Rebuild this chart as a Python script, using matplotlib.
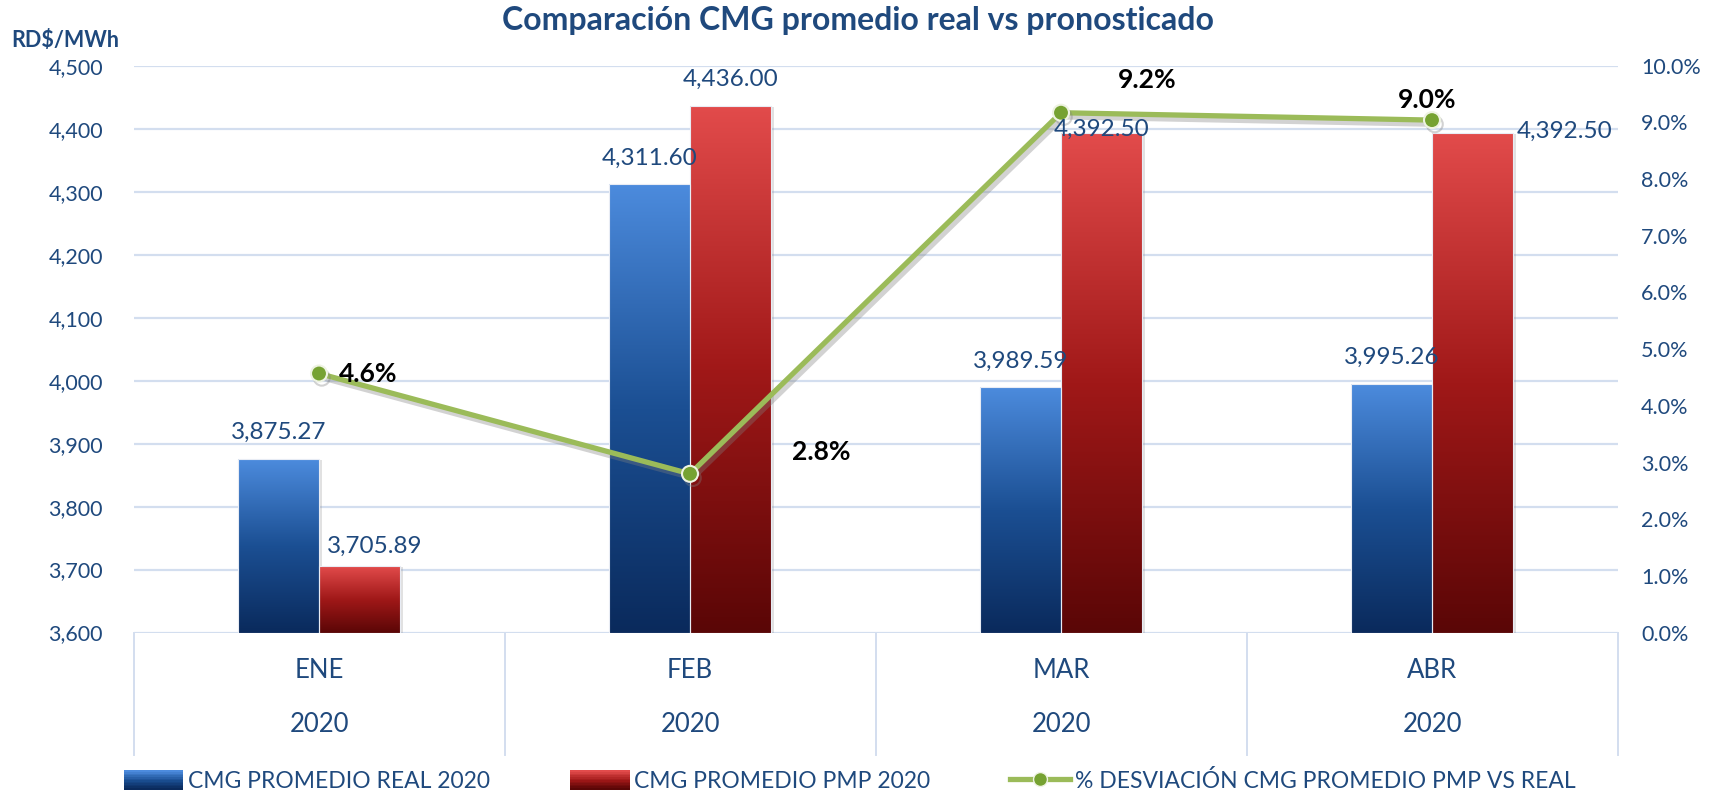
import matplotlib
matplotlib.use("Agg")
import matplotlib.pyplot as plt
import numpy as np
from matplotlib.colors import LinearSegmentedColormap
from matplotlib.patches import Rectangle
from matplotlib.lines import Line2D
from matplotlib.legend_handler import HandlerBase
from matplotlib.ticker import FuncFormatter, PercentFormatter
from matplotlib.transforms import offset_copy
import matplotlib.patheffects as pe

plt.rcParams["font.family"] = ["Lato", "DejaVu Sans"]

# data
months = ["ENE", "FEB", "MAR", "ABR"]
years = ["2020", "2020", "2020", "2020"]
cmg_real = [3875.27, 4311.60, 3989.59, 3995.26]
cmg_pmp = [3705.89, 4436.00, 4392.50, 4392.50]
desviacion = [0.0457, 0.0280, 0.0917, 0.0904]
desviacion_labels = ["4.6%", "2.8%", "9.2%", "9.0%"]

TXT = "#1F497D"
GRID = "#D3DEEF"
BLUE_TOP, BLUE_BOT = "#4C8BDD", "#0A2A5C"
RED_TOP, RED_BOT = "#E24B4B", "#5A0606"
GREEN = "#9BBB59"

blue_cmap = LinearSegmentedColormap.from_list("b", [BLUE_BOT, "#1B4F93", BLUE_TOP])
red_cmap = LinearSegmentedColormap.from_list("r", [RED_BOT, "#A01818", RED_TOP])
grad = np.linspace(0, 1, 256).reshape(-1, 1)

fig = plt.figure(figsize=(17.16, 7.97), dpi=100)
ax = fig.add_axes([0.0778, 0.2063, 0.8648, 0.7113])

x = np.arange(len(months))
w = 0.218
bars_r = ax.bar(x - w / 2, cmg_real, width=w, color="none", zorder=2)
bars_p = ax.bar(x + w / 2, cmg_pmp, width=w, color="none", zorder=2)

ymin, ymax = 3600, 4500
shadow_tr = offset_copy(ax.transData, fig=fig, x=3, y=-1, units="dots")
# gradient fill per bar, with a soft shadow
for bars, cmap in ((bars_r, blue_cmap), (bars_p, red_cmap)):
    for b in bars:
        x0, h = b.get_x(), b.get_height()
        ax.add_patch(Rectangle((x0, ymin), b.get_width(), h - ymin, facecolor="#888888",
                               alpha=0.25, edgecolor="none", transform=shadow_tr, zorder=1.8))
        ax.imshow(grad, extent=[x0, x0 + b.get_width(), ymin, h], origin="lower",
                  aspect="auto", cmap=cmap, interpolation="bilinear", zorder=2)
        ax.add_patch(Rectangle((x0, ymin), b.get_width(), h - ymin, fill=False,
                               edgecolor="#E8ECF4", linewidth=0.8, zorder=3))

ax.set_xlim(-0.5, 3.5)
ax.set_ylim(ymin, ymax)
ax.set_yticks(np.arange(3600, 4501, 100))
ax.yaxis.set_major_formatter(FuncFormatter(lambda v, p: f"{v:,.0f}"))
ax.tick_params(axis="y", length=0, pad=22, labelsize=15.5, labelcolor=TXT)
ax.set_xticks([])
ax.grid(axis="y", color=GRID, linewidth=1.6, zorder=0)
ax.set_axisbelow(True)
for s in ax.spines.values():
    s.set_visible(False)

# two-level category axis
trans = ax.get_xaxis_transform()
for sx in np.arange(-0.5, 4.0, 1.0):
    ax.plot([sx, sx], [0, -0.216], transform=trans, color=GRID, linewidth=1.4, clip_on=False)
for i in x:
    ax.text(i, -0.0675, months[i], transform=trans, ha="center", va="center", fontsize=18.5, color=TXT)
    ax.text(i, -0.1623, years[i], transform=trans, ha="center", va="center", fontsize=18.5, color=TXT)

# secondary axis for deviation line
ax2 = ax.twinx()
ax2.set_ylim(0, 0.10)
ax2.set_yticks(np.arange(0, 0.1001, 0.01))
ax2.yaxis.set_major_formatter(PercentFormatter(1.0, decimals=1))
ax2.tick_params(axis="y", length=0, pad=17, labelsize=15.5, labelcolor=TXT)
for s in ax2.spines.values():
    s.set_visible(False)
ax2.plot(x, desviacion, color=GREEN, linewidth=3.8, marker="o", markersize=11.5,
         markerfacecolor="#76A232", markeredgecolor="#EEF3E2", markeredgewidth=1.5, zorder=4,
         path_effects=[pe.SimpleLineShadow(offset=(2, -3), shadow_color="gray", alpha=0.35), pe.Normal()])

# bar value labels (drawn on top axes so they sit over the line)
real_off = [(0, 27), (0, 26), (0, 26), (0, 26)]
pmp_off = [(15, 20), (0, 27), (0, 4), (92, 2)]
for bars, vals, offs in ((bars_r, cmg_real, real_off), (bars_p, cmg_pmp, pmp_off)):
    for b, v, o in zip(bars, vals, offs):
        ax2.annotate(f"{v:,.2f}", xy=(b.get_x() + b.get_width() / 2, v), xycoords=ax.transData,
                     xytext=o, textcoords="offset pixels", ha="center", va="center",
                     fontsize=17.5, color=TXT, zorder=6)

# percent labels
pct_off = [(20, 0, "left"), (131, 22, "center"), (86, 33, "center"), (-5, 20, "center")]
for xi, v, lab, (dx, dy, ha) in zip(x, desviacion, desviacion_labels, pct_off):
    ax2.annotate(lab, xy=(xi, v), xytext=(dx, dy), textcoords="offset pixels",
                 ha=ha, va="center", fontsize=19, fontweight="bold", color="black", zorder=6)

fig.text(0.5, 0.974, "Comparación CMG promedio real vs pronosticado", ha="center", va="center",
         fontsize=23, fontweight="bold", color=TXT)
fig.text(0.0065, 0.949, "RD$/MWh", ha="left", va="center", fontsize=15.5, fontweight="bold", color=TXT)


class GradientHandler(HandlerBase):
    def __init__(self, cmap):
        super().__init__()
        self.cmap = cmap

    def create_artists(self, legend, orig_handle, xdescent, ydescent, width, height, fontsize, trans):
        n = 12
        arts = []
        for k in range(n):
            r = Rectangle((-xdescent, -ydescent + height * k / n), width, height / n + 0.3,
                          facecolor=self.cmap(k / (n - 1)), edgecolor="none", transform=trans)
            arts.append(r)
        return arts


h_real = Rectangle((0, 0), 1, 1)
h_pmp = Rectangle((0, 0), 1, 1)
h_dev = Line2D([], [], color=GREEN, linewidth=3.8, marker="o", markersize=10,
               markerfacecolor="#76A232", markeredgecolor="#EEF3E2")
leg = fig.legend([h_real, h_pmp, h_dev],
                 ["CMG PROMEDIO REAL 2020", "CMG PROMEDIO PMP 2020", "% DESVIACIÓN CMG PROMEDIO PMP VS REAL"],
                 handler_map={h_real: GradientHandler(blue_cmap), h_pmp: GradientHandler(red_cmap)},
                 loc="center", bbox_to_anchor=(0.495, 0.02), ncol=3, frameon=False,
                 fontsize=16.5, handlelength=2.6, handleheight=0.9, handletextpad=0.2, columnspacing=3.5)
for t in leg.get_texts():
    t.set_color(TXT)

fig.savefig("out.png", dpi=100)
